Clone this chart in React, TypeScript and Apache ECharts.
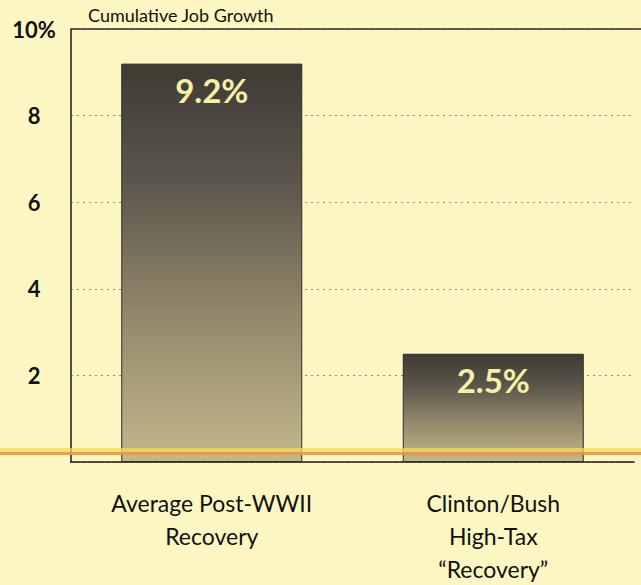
import React, { useEffect, useRef } from "react";
import * as echarts from "echarts";

const categories = ["Average Post-WWII\nRecovery", "Clinton/Bush\nHigh-Tax\n\u201cRecovery\u201d"];
const values = [9.2, 2.5];
const valueLabels = ["9.2%", "2.5%"];
const yTicks = [0, 2, 4, 6, 8, 10];
const chartTitle = "Cumulative Job Growth";

const FONT = "Lato, 'Open Sans', sans-serif";

export default function App() {
  const ref = useRef<HTMLDivElement>(null);
  useEffect(() => {
    if (!ref.current) return;
    const chart = echarts.init(ref.current, null, { renderer: "svg" });
    const gridLeft = 71;
    const gridTop = 29;
    const gridBottomY = 463;
    chart.setOption({
      animation: false,
      backgroundColor: "#fcf7c2",
      grid: { left: gridLeft, right: 7, top: gridTop, bottom: 585 - gridBottomY },
      xAxis: {
        type: "category",
        data: categories,
        axisLine: { show: true, lineStyle: { color: "#1a1a1a", width: 1.5 } },
        axisTick: { show: false },
        axisLabel: {
          margin: 24,
          color: "#111",
          fontFamily: FONT,
          fontSize: 23,
          lineHeight: 33,
          align: "center",
        },
      },
      yAxis: {
        type: "value",
        min: yTicks[0],
        max: yTicks[yTicks.length - 1],
        interval: 2,
        axisLine: { show: true, lineStyle: { color: "#1a1a1a", width: 1.5 } },
        axisTick: { show: false },
        axisLabel: {
          margin: 37,
          align: "center",
          color: "#111",
          fontFamily: FONT,
          fontWeight: "bold",
          fontSize: 22,
          formatter: (v: number) => (v === 0 ? "" : v === 10 ? "10%" : String(v)),
        },
        splitLine: {
          show: true,
          lineStyle: { color: "#8a8a80", type: [2, 4], width: 1.2 },
        },
      },
      series: [
        {
          type: "bar",
          data: values,
          barWidth: 181,
          z: 3,
          itemStyle: {
            borderColor: "#2e2b27",
            borderWidth: 1,
            color: new echarts.graphic.LinearGradient(0, 0, 0, 1, [
              { offset: 0, color: "#3e3a35" },
              { offset: 0.3, color: "#5c574d" },
              { offset: 0.65, color: "#958b6c" },
              { offset: 1, color: "#c3b78c" },
            ]),
          },
          label: {
            show: true,
            position: "insideTop",
            distance: 10,
            formatter: (p: any) => valueLabels[p.dataIndex],
            color: "#f6f0a4",
            fontFamily: FONT,
            fontWeight: "bold",
            fontSize: 33,
          },
        },
      ],
      graphic: [
        {
          type: "line",
          z: 10,
          shape: { x1: gridLeft, y1: gridTop, x2: 641, y2: gridTop },
          style: { stroke: "#2a2a2a", lineWidth: 1.5 },
        },
        {
          type: "rect",
          z: 10,
          shape: { x: 0, y: 448, width: 641, height: 4 },
          style: { fill: "rgba(246, 220, 80, 0.75)" },
        },
        {
          type: "rect",
          z: 10,
          shape: { x: 0, y: 452, width: 641, height: 3 },
          style: { fill: "rgba(236, 150, 70, 0.9)" },
        },
        {
          type: "text",
          z: 11,
          left: 88,
          top: 6,
          style: {
            text: chartTitle,
            fill: "#111",
            font: `18px ${FONT}`,
          },
        },
      ],
    });
    return () => chart.dispose();
  }, []);
  return (
    <div
      ref={ref}
      style={{ position: "fixed", left: 0, top: 0, width: 641, height: 585 }}
    />
  );
}
